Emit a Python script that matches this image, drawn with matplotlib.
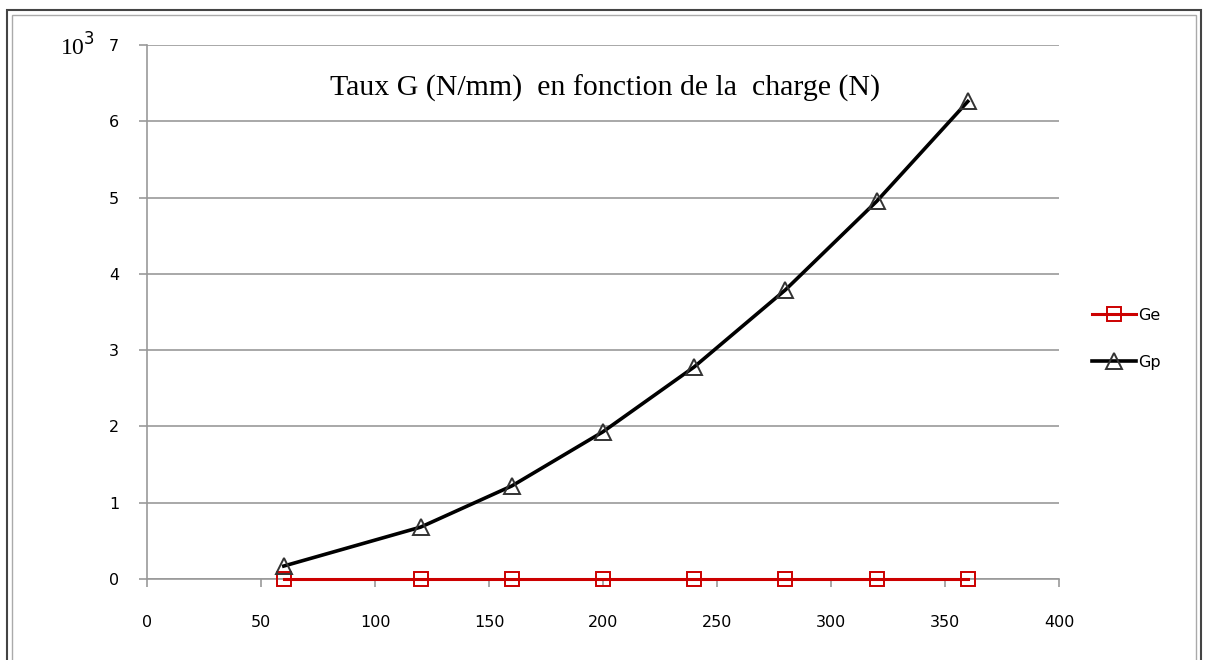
import matplotlib
matplotlib.use("Agg")
import matplotlib.pyplot as plt
from matplotlib.patches import Rectangle

charge = [60, 120, 160, 200, 240, 280, 320, 360]
ge = [0, 0, 0, 0, 0, 0, 0, 0]
gp = [0.17, 0.68, 1.22, 1.93, 2.78, 3.79, 4.95, 6.26]

x_ticks = [0, 50, 100, 150, 200, 250, 300, 350, 400]
y_ticks = [0, 1, 2, 3, 4, 5, 6, 7]

W, H = 1208, 660
fig = plt.figure(figsize=(W / 100, H / 100), dpi=100)

# outer double frame (the bottom edge is cut off in the original)
fig.patches.append(Rectangle((7 / W, -0.05), 1194 / W, 1.05 - 10 / H,
                             transform=fig.transFigure, fill=False,
                             edgecolor="#444444", linewidth=1.5))
fig.patches.append(Rectangle((12 / W, -0.05), 1184 / W, 1.05 - 15 / H,
                             transform=fig.transFigure, fill=False,
                             edgecolor="#aaaaaa", linewidth=1.0))

ax = fig.add_axes([147 / W, (H - 579) / H, 912 / W, 534 / H])

ax.plot(charge, ge, color="#cc0000", linewidth=2.2, marker="s", markersize=10,
        markerfacecolor="none", markeredgecolor="#cc0000", markeredgewidth=1.4,
        label="Ge", zorder=3, clip_on=False)
ax.plot(charge, gp, color="black", linewidth=2.6, marker="^", markersize=11,
        markerfacecolor="none", markeredgecolor="#333333", markeredgewidth=1.4,
        label="Gp", zorder=4, clip_on=False)

ax.set_xlim(0, 400)
ax.set_ylim(0, 7)
ax.set_xticks(x_ticks)
ax.set_yticks(y_ticks)
ax.grid(axis="y", color="#999999", linewidth=1.2)
ax.set_axisbelow(True)

for side in ["top", "right"]:
    ax.spines[side].set_visible(False)
for side in ["left", "bottom"]:
    ax.spines[side].set_color("#999999")
    ax.spines[side].set_linewidth(1.2)

ax.tick_params(axis="both", direction="out", length=6, width=1.2,
               color="#999999", labelsize=11.5, labelcolor="black")
ax.tick_params(axis="x", pad=20)
ax.tick_params(axis="y", pad=14)

fig.text(605 / W, 1 - 88 / H, "Taux G (N/mm)  en fonction de la  charge (N)",
         ha="center", va="center", fontfamily="Liberation Serif", fontsize=21.5)
fig.text(77 / W, 1 - 47 / H, r"10$^3$", ha="center", va="center",
         fontfamily="Liberation Serif", fontsize=17)

ax.legend(loc="center left", bbox_to_anchor=(1.02, 0.45), frameon=False,
          fontsize=11.5, handlelength=2.8, handletextpad=0.1, labelspacing=2.0)

fig.savefig("out.png", dpi=100)
